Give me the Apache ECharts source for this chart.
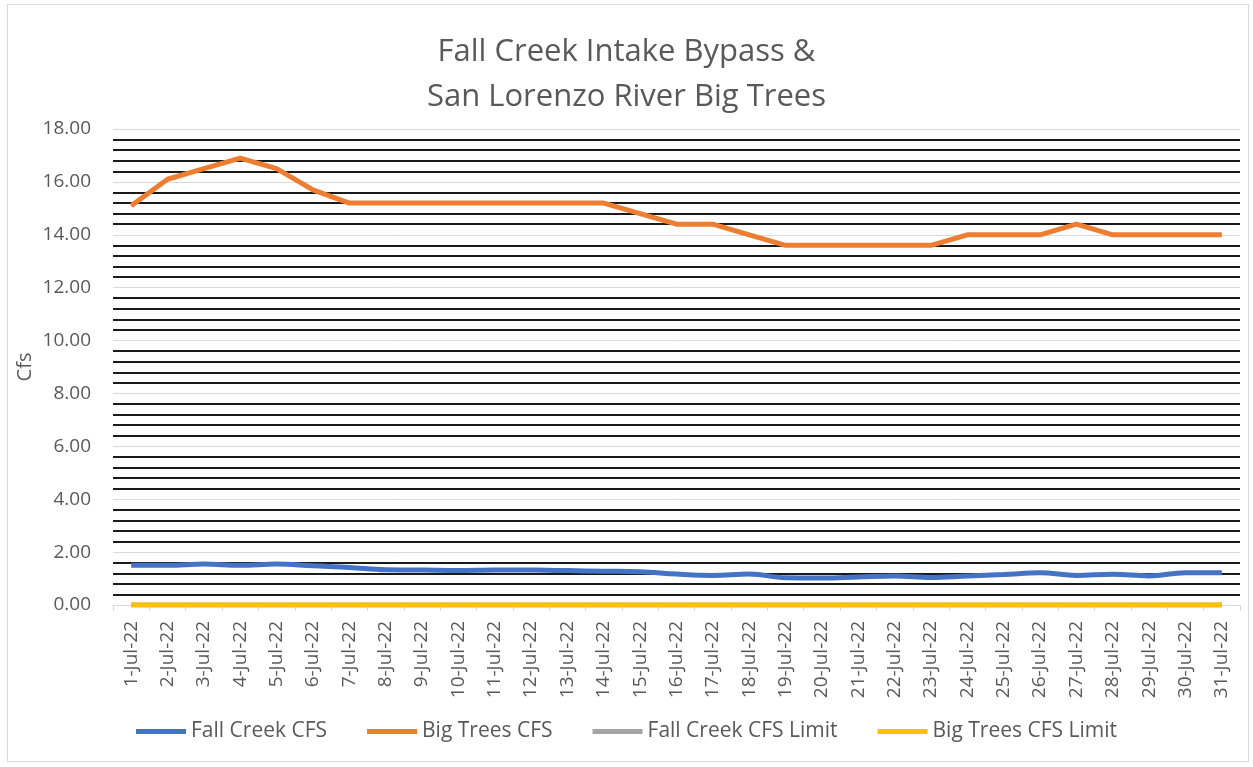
<!DOCTYPE html>
<html>
<head>
<meta charset="utf-8">
<script src="https://cdn.jsdelivr.net/npm/echarts@6/dist/echarts.min.js"></script>
<style>
  html, body { margin: 0; padding: 0; background: #fff; }
  #main { position: absolute; left: 0; top: 0; width: 1253px; height: 767px; }
  .frame { position: absolute; left: 7px; top: 4px; width: 1242px; height: 758px; border: 1px solid #d9d9d9; box-sizing: border-box; }
</style>
</head>
<body>
<div class="frame"></div>
<div id="main"></div>
<script>
// dates shown on the x axis
const days = [
  "1-Jul-22", "2-Jul-22", "3-Jul-22", "4-Jul-22", "5-Jul-22", "6-Jul-22", "7-Jul-22", "8-Jul-22",
  "9-Jul-22", "10-Jul-22", "11-Jul-22", "12-Jul-22", "13-Jul-22", "14-Jul-22", "15-Jul-22", "16-Jul-22",
  "17-Jul-22", "18-Jul-22", "19-Jul-22", "20-Jul-22", "21-Jul-22", "22-Jul-22", "23-Jul-22", "24-Jul-22",
  "25-Jul-22", "26-Jul-22", "27-Jul-22", "28-Jul-22", "29-Jul-22", "30-Jul-22", "31-Jul-22"
];
// readings (cfs)
const fallCreek = [
  1.50, 1.50, 1.55, 1.50, 1.55, 1.48, 1.42, 1.33, 1.32, 1.30, 1.32, 1.32, 1.30, 1.28, 1.26, 1.17,
  1.12, 1.17, 1.03, 1.02, 1.06, 1.10, 1.04, 1.10, 1.15, 1.22, 1.12, 1.16, 1.10, 1.22, 1.22
];
const bigTrees = [
  15.1, 16.1, 16.5, 16.9, 16.5, 15.7, 15.2, 15.2, 15.2, 15.2, 15.2, 15.2, 15.2, 15.2, 14.8, 14.4,
  14.4, 14.0, 13.6, 13.6, 13.6, 13.6, 13.6, 14.0, 14.0, 14.0, 14.4, 14.0, 14.0, 14.0, 14.0
];
const fallCreekLimit = days.map(() => 0);
const bigTreesLimit = days.map(() => 0);

const seriesNames = ["Fall Creek CFS", "Big Trees CFS", "Fall Creek CFS Limit", "Big Trees CFS Limit"];
const seriesColors = ["#4472c4", "#ed7d31", "#a5a5a5", "#ffc000"];

const font = "'Open Sans', sans-serif";
const grayText = "#595959";

const chart = echarts.init(document.getElementById("main"));
chart.setOption({
  animation: false,
  color: seriesColors,
  title: {
    text: "Fall Creek Intake Bypass &\nSan Lorenzo River Big Trees",
    left: "center",
    top: 25,
    textStyle: { fontFamily: font, fontSize: 31, fontWeight: "normal", color: grayText, lineHeight: 45 },
  },
  grid: { left: 113, right: 13, top: 129, bottom: 162 },
  legend: {
    bottom: 20,
    left: "center",
    icon: "rect",
    itemWidth: 50,
    itemHeight: 5,
    itemGap: 40,
    textStyle: { fontFamily: font, fontSize: 21, color: grayText },
    data: seriesNames,
  },
  xAxis: {
    type: "category",
    data: days,
    boundaryGap: true,
    axisLine: { lineStyle: { color: "#d9d9d9" } },
    axisTick: { show: true, length: 6, lineStyle: { color: "#d9d9d9" } },
    axisLabel: { interval: 0, rotate: 90, fontFamily: font, fontSize: 19, color: grayText, margin: 16 },
  },
  yAxis: {
    type: "value",
    min: 0,
    max: 18,
    interval: 2,
    name: "Cfs",
    nameLocation: "middle",
    nameRotate: 90,
    nameGap: 78,
    nameMoveOverlap: false,
    nameTextStyle: { fontFamily: font, fontSize: 20, color: grayText },
    axisLine: { show: false },
    axisTick: { show: false },
    axisLabel: { fontFamily: font, fontSize: 19, color: grayText, margin: 22, formatter: (v) => v.toFixed(2) },
    splitLine: { lineStyle: { color: "#d9d9d9", width: 1 } },
    minorTick: { show: false, splitNumber: 5 },
    minorSplitLine: { show: true, lineStyle: { color: "#1a1a1a", width: 2 } },
  },
  series: [
    { name: seriesNames[0], type: "line", data: fallCreek, smooth: 0.4, symbol: "none", lineStyle: { width: 5 }, z: 4 },
    { name: seriesNames[1], type: "line", data: bigTrees, symbol: "none", lineStyle: { width: 5 }, z: 4 },
    { name: seriesNames[2], type: "line", data: fallCreekLimit, symbol: "none", lineStyle: { width: 5 }, z: 3 },
    { name: seriesNames[3], type: "line", data: bigTreesLimit, symbol: "none", lineStyle: { width: 5 }, z: 3 },
  ],
});
</script>
</body>
</html>
